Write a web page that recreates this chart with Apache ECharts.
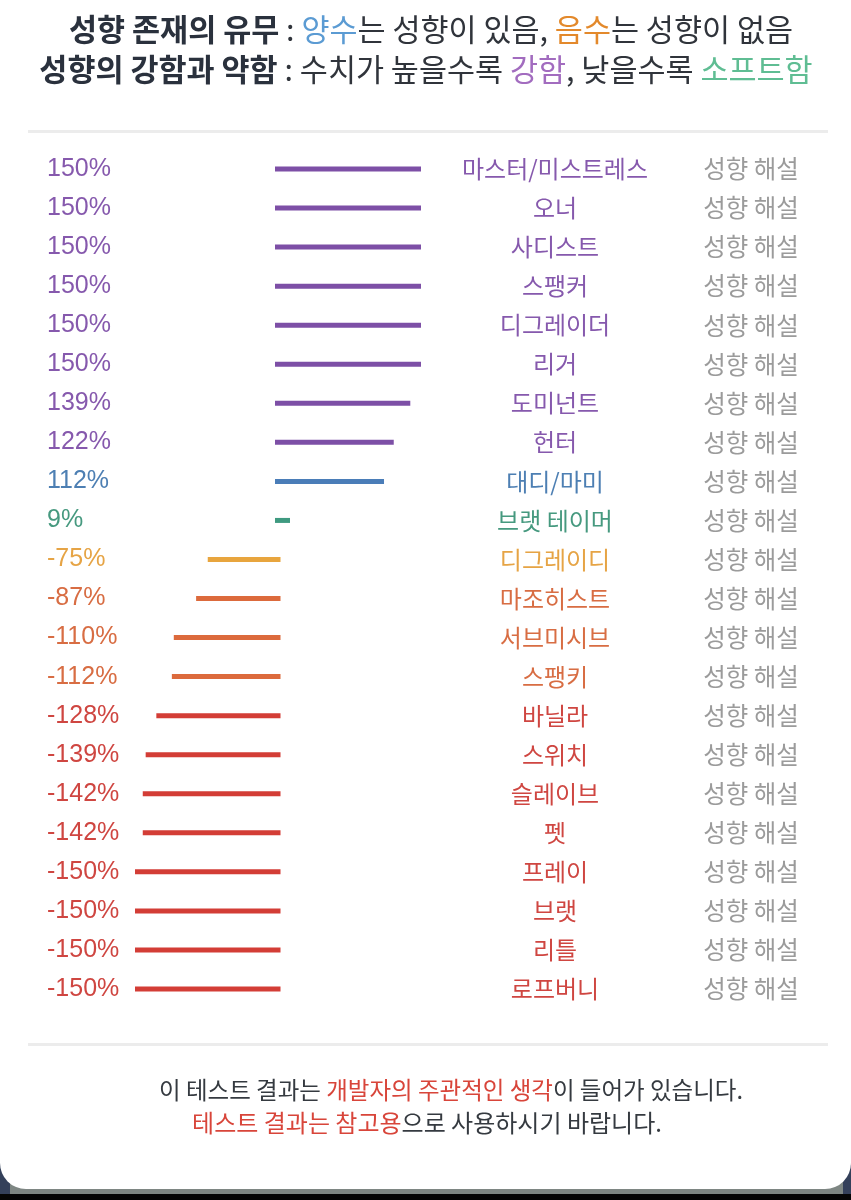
<!DOCTYPE html>
<html>
<head>
<meta charset="utf-8">
<script src="https://cdn.jsdelivr.net/npm/echarts@6/dist/echarts.min.js"></script>
<style>
  html, body { margin: 0; padding: 0; background: #fff; }
  #chart { width: 851px; height: 1200px; }
</style>
</head>
<body>
<div id="chart"></div>
<script>
var names = ['마스터/미스트레스', '오너', '사디스트', '스팽커', '디그레이더', '리거', '도미넌트', '헌터',
  '대디/마미', '브랫 테이머', '디그레이디', '마조히스트', '서브미시브', '스팽키', '바닐라', '스위치',
  '슬레이브', '펫', '프레이', '브랫', '리틀', '로프버니'];
var values = [150, 150, 150, 150, 150, 150, 139, 122, 112, 9, -75, -87, -110, -112, -128, -139,
  -142, -142, -150, -150, -150, -150];
var noteText = '성향 해설';

var KR = "'Noto Sans CJK KR', sans-serif";
var NUM = "'Liberation Sans', Arial, sans-serif";

// colour band by value
function tone(v) {
  if (v >= 120) return '#7d4fa6';
  if (v >= 100) return '#4a7db8';
  if (v >= 0) return '#3f9a80';
  if (v > -80) return '#e8a53e';
  if (v > -120) return '#dc6a3c';
  return '#d33d36';
}
function textTone(v) {
  if (v >= 120) return '#8659ad';
  if (v >= 100) return '#4d7fb3';
  if (v >= 0) return '#46997f';
  if (v > -80) return '#e6a445';
  if (v > -120) return '#d86d43';
  return '#cf4641';
}

var posData = values.map(function (v) {
  return v >= 0 ? { value: v, itemStyle: { color: tone(v) } } : '-';
});
var negData = values.map(function (v) {
  return v < 0 ? { value: v, itemStyle: { color: tone(v) } } : '-';
});

var gridTop = 149.5, gridHeight = 859;

function catAxis(grid, extra) {
  return Object.assign({
    type: 'category', gridIndex: grid, data: names, inverse: true,
    axisLine: { show: false }, axisTick: { show: false }, splitLine: { show: false }
  }, extra);
}
function valAxis(grid, min, max) {
  return {
    type: 'value', gridIndex: grid, min: min, max: max,
    axisLine: { show: false }, axisTick: { show: false }, splitLine: { show: false },
    axisLabel: { show: false }
  };
}

var chart = echarts.init(document.getElementById('chart'));
chart.setOption({
  animation: false,
  grid: [
    { left: 275, width: 146, top: gridTop, height: gridHeight },
    { left: 135, width: 145.5, top: gridTop, height: gridHeight }
  ],
  xAxis: [valAxis(0, 0, 150), valAxis(1, -150, 0)],
  yAxis: [
    catAxis(0, { axisLabel: { show: false } }),
    catAxis(1, {
      position: 'left',
      axisLabel: {
        interval: 0, margin: 88, align: 'left',
        fontFamily: NUM, fontSize: 25,
        formatter: function (val, i) { return values[i] + '%'; },
        color: function (val, i) { return textTone(values[i]); }
      }
    }),
    catAxis(0, {
      position: 'right',
      axisLabel: {
        interval: 0, margin: 134, align: 'center',
        fontFamily: KR, fontSize: 24, padding: [5, 0, 0, 0],
        color: function (val, i) { return textTone(values[i]); }
      }
    }),
    catAxis(0, {
      position: 'right',
      axisLabel: {
        interval: 0, margin: 330, align: 'center',
        fontFamily: KR, fontSize: 24.5, color: '#9b9b9b', padding: [5, 0, 0, 0],
        formatter: function () { return noteText; }
      }
    })
  ],
  series: [
    { type: 'bar', xAxisIndex: 0, yAxisIndex: 0, data: posData, barWidth: 5, barMinHeight: 15 },
    { type: 'bar', xAxisIndex: 1, yAxisIndex: 1, data: negData, barWidth: 5 }
  ],
  graphic: [
    // frame under the card
    { type: 'rect', shape: { x: 0, y: 1150, width: 851, height: 50 }, style: { fill: '#7e8683' }, z: -3 },
    { type: 'rect', shape: { x: 0, y: 1194, width: 851, height: 6 }, style: { fill: '#050505' }, z: -3 },
    { type: 'rect', shape: { x: 0, y: 1150, width: 10, height: 44 }, style: { fill: '#34405a' }, z: -3 },
    { type: 'rect', shape: { x: 843, y: 1165, width: 8, height: 29 }, style: { fill: '#34405a' }, z: -3 },
    { type: 'rect', shape: { x: 0, y: 0, width: 851, height: 1189, r: [0, 0, 26, 26] }, style: { fill: '#fff' }, z: -2 },
    // dividers
    { type: 'rect', shape: { x: 28, y: 130, width: 800, height: 3 }, style: { fill: '#ececec' }, z: 3 },
    { type: 'rect', shape: { x: 28, y: 1043, width: 800, height: 3 }, style: { fill: '#ececec' }, z: 3 },
    // header
    {
      type: 'text', x: 431, y: 29, z: 3,
      style: {
        text: '{b|성향 존재의 유무}{n| : }{blue|양수}{n|는 성향이 있음, }{orange|음수}{n|는 성향이 없음}',
        align: 'center', verticalAlign: 'middle',
        rich: {
          b: { fontFamily: KR, fontSize: 30.5, fontWeight: 'bold', fill: '#2a313d' },
          n: { fontFamily: KR, fontSize: 30.5, fill: '#30343b' },
          blue: { fontFamily: KR, fontSize: 30.5, fill: '#5b9bd3' },
          orange: { fontFamily: KR, fontSize: 30.5, fill: '#e3892b' }
        }
      }
    },
    {
      type: 'text', x: 426, y: 69, z: 3,
      style: {
        text: '{b|성향의 강함과 약함}{n| : 수치가 높을수록 }{purple|강함}{n|, 낮을수록 }{green|소프트함}',
        align: 'center', verticalAlign: 'middle',
        rich: {
          b: { fontFamily: KR, fontSize: 30.5, fontWeight: 'bold', fill: '#2a313d' },
          n: { fontFamily: KR, fontSize: 30.5, fill: '#30343b' },
          purple: { fontFamily: KR, fontSize: 30.5, fill: '#a26cbf' },
          green: { fontFamily: KR, fontSize: 30.5, fill: '#5fbd93' }
        }
      }
    },
    // footer
    {
      type: 'text', x: 451, y: 1090, z: 3,
      style: {
        text: '{n|이 테스트 결과는 }{r|개발자의 주관적인 생각}{n|이 들어가 있습니다.}',
        align: 'center', verticalAlign: 'middle',
        rich: {
          n: { fontFamily: KR, fontSize: 23.5, fill: '#353a40' },
          r: { fontFamily: KR, fontSize: 23.5, fill: '#d8453a' }
        }
      }
    },
    {
      type: 'text', x: 427, y: 1123, z: 3,
      style: {
        text: '{r|테스트 결과는 참고용}{n|으로 사용하시기 바랍니다.}',
        align: 'center', verticalAlign: 'middle',
        rich: {
          n: { fontFamily: KR, fontSize: 24, fill: '#353a40' },
          r: { fontFamily: KR, fontSize: 24, fill: '#d8453a' }
        }
      }
    }
  ]
});
</script>
</body>
</html>
